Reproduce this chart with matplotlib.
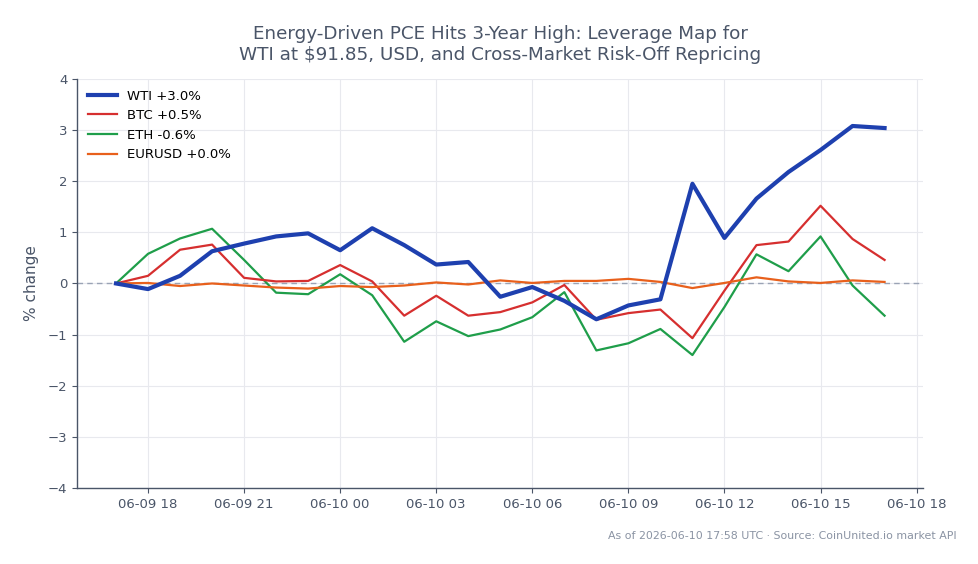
import matplotlib
matplotlib.use("Agg")
import matplotlib.pyplot as plt
import matplotlib.dates as mdates
import pandas as pd

times = pd.date_range("2026-06-09 17:00", "2026-06-10 17:00", freq="1h")

wti = [0.00, -0.11, 0.15, 0.63, 0.78, 0.92, 0.98, 0.65, 1.08, 0.75, 0.37, 0.42, -0.26,
       -0.07, -0.34, -0.70, -0.43, -0.31, 1.95, 0.89, 1.66, 2.18, 2.61, 3.08, 3.04]
btc = [0.00, 0.15, 0.66, 0.76, 0.11, 0.04, 0.05, 0.36, 0.04, -0.63, -0.24, -0.63, -0.56,
       -0.37, -0.03, -0.71, -0.58, -0.51, -1.07, -0.14, 0.75, 0.82, 1.52, 0.87, 0.46]
eth = [0.00, 0.58, 0.88, 1.07, 0.46, -0.18, -0.21, 0.18, -0.23, -1.14, -0.74, -1.03, -0.90,
       -0.66, -0.17, -1.31, -1.17, -0.89, -1.40, -0.46, 0.57, 0.24, 0.92, -0.04, -0.63]
eurusd = [0.00, 0.01, -0.05, 0.00, -0.04, -0.08, -0.10, -0.05, -0.07, -0.04, 0.02, -0.02, 0.06,
          0.01, 0.05, 0.05, 0.09, 0.03, -0.09, 0.01, 0.12, 0.04, 0.01, 0.06, 0.03]

labels = ["WTI +3.0%", "BTC +0.5%", "ETH -0.6%", "EURUSD +0.0%"]
title = "Energy-Driven PCE Hits 3-Year High: Leverage Map for\nWTI at $91.85, USD, and Cross-Market Risk-Off Repricing"
footer = "As of 2026-06-10 17:58 UTC \u00b7 Source: CoinUnited.io market API"

text_col = "#4a5568"
fig = plt.figure(figsize=(9.79, 5.64), dpi=100)
ax = fig.add_axes([0.0787, 0.1348, 0.8641, 0.7252])

ax.axhline(0, color="#9aa3b5", lw=1.0, ls=(0, (4, 3)), zorder=1)
ax.plot(times, wti, color="#1e40af", lw=3.0, label=labels[0], zorder=5)
ax.plot(times, btc, color="#d62f2f", lw=1.6, label=labels[1], zorder=4)
ax.plot(times, eth, color="#1f9e4a", lw=1.6, label=labels[2], zorder=3)
ax.plot(times, eurusd, color="#e8601c", lw=1.6, label=labels[3], zorder=4)

ax.set_ylim(-4, 4)
ax.set_xlim(pd.Timestamp("2026-06-09 15:47"), pd.Timestamp("2026-06-10 18:12"))
ax.xaxis.set_major_locator(mdates.HourLocator(byhour=range(0, 24, 3)))
ax.xaxis.set_major_formatter(mdates.DateFormatter("%m-%d %H"))

ax.grid(True, color="#e8e9ee", lw=0.8)
ax.set_axisbelow(True)
for s in ["top", "right"]:
    ax.spines[s].set_visible(False)
for s in ["left", "bottom"]:
    ax.spines[s].set_color(text_col)
    ax.spines[s].set_linewidth(1.0)
ax.tick_params(colors=text_col, labelsize=9.5, labelcolor=text_col)

ax.set_ylabel("% change", color=text_col, fontsize=11, labelpad=6)
ax.set_title(title, color=text_col, fontsize=13.2, pad=14)

ax.legend(loc="upper left", frameon=False, fontsize=9.5, handlelength=2.2,
          borderaxespad=0.4, labelspacing=0.5)

fig.text(0.977, 0.050, footer, ha="right", va="center", color="#8a93a3", fontsize=7.9)

fig.savefig("out.png", dpi=100)
